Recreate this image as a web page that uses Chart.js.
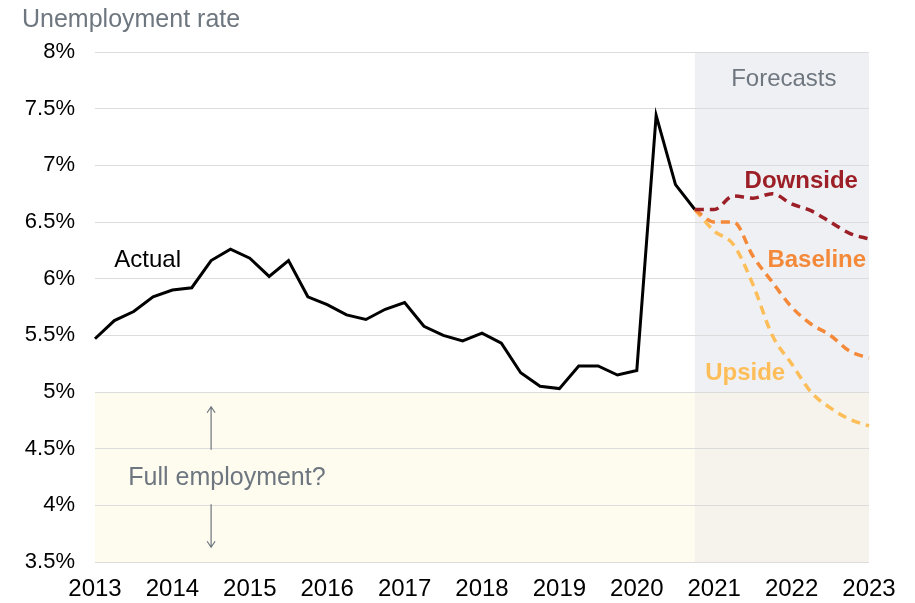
<!DOCTYPE html>
<html>
<head>
<meta charset="utf-8">
<script src="https://cdn.jsdelivr.net/npm/chart.js@4"></script>
<style>
  html, body { margin: 0; padding: 0; background: #fff; }
  #wrap { position: relative; width: 915px; height: 603px; }
</style>
</head>
<body>
<div id="wrap"><canvas id="myChart" width="915" height="603"></canvas></div>
<script>
// quarters 2013Q1 .. 2023Q1
const quarters = [
    '2013Q1','2013Q2','2013Q3','2013Q4','2014Q1','2014Q2','2014Q3','2014Q4',
    '2015Q1','2015Q2','2015Q3','2015Q4','2016Q1','2016Q2','2016Q3','2016Q4',
    '2017Q1','2017Q2','2017Q3','2017Q4','2018Q1','2018Q2','2018Q3','2018Q4',
    '2019Q1','2019Q2','2019Q3','2019Q4','2020Q1','2020Q2','2020Q3','2020Q4',
    '2021Q1','2021Q2','2021Q3','2021Q4','2022Q1','2022Q2','2022Q3','2022Q4',
    '2023Q1'
];

// actual rate, 2013Q1 .. 2020Q4
const actual = [
    5.47, 5.63, 5.71, 5.84, 5.90, 5.92, 6.16, 6.26,
    6.18, 6.02, 6.16, 5.84, 5.77, 5.68, 5.64, 5.73,
    5.79, 5.58, 5.50, 5.45, 5.52, 5.43, 5.17, 5.05,
    5.03, 5.23, 5.23, 5.15, 5.19, 7.44, 6.83, 6.61
];

// forecasts, 2020Q4 .. 2023Q1
const downside = [6.61, 6.61, 6.73, 6.71, 6.75, 6.66, 6.60, 6.50, 6.40, 6.35];
const baseline = [6.61, 6.50, 6.50, 6.20, 5.97, 5.75, 5.60, 5.50, 5.36, 5.30];
const upside   = [6.61, 6.42, 6.30, 5.95, 5.50, 5.25, 5.00, 4.86, 4.76, 4.70];

const yTicks = [3.5, 4, 4.5, 5, 5.5, 6, 6.5, 7, 7.5, 8];

const forecastStart = actual.length - 1;
const fullEmployment = [3.5, 5];

const FONT = '"Liberation Sans", Arial, Helvetica, sans-serif';
const NARROW = '"Liberation Sans Narrow", "Arial Narrow", "Liberation Sans", sans-serif';
const GREY = '#6e767f';

function padForecast(values) {
    let out = new Array(forecastStart).fill(null);
    return out.concat(values);
}

const backgrounds = {
    id: 'backgrounds',
    beforeDraw(chart) {
        const { ctx, chartArea, scales } = chart;
        const x = scales.x, y = scales.y;
        ctx.save();
        let yTop = y.getPixelForValue(fullEmployment[1]);
        let yBot = y.getPixelForValue(fullEmployment[0]);
        let fx = x.getPixelForValue(forecastStart);
        // full employment band
        ctx.fillStyle = '#fefbef';
        ctx.fillRect(chartArea.left, yTop, fx - chartArea.left, yBot - yTop);
        // forecast shading
        ctx.fillStyle = '#eff0f3';
        ctx.fillRect(fx, chartArea.top, chartArea.right - fx, yTop - chartArea.top);
        // overlap
        ctx.fillStyle = '#f5f3ec';
        ctx.fillRect(fx, yTop, chartArea.right - fx, yBot - yTop);
        ctx.restore();
    }
};

const annotations = {
    id: 'annotations',
    afterDatasetsDraw(chart) {
        const { ctx, scales } = chart;
        const x = scales.x, y = scales.y;
        ctx.save();
        ctx.textBaseline = 'middle';

        function label(text, xi, yv, color, weight, align) {
            ctx.font = weight + ' 24px ' + FONT;
            ctx.fillStyle = color;
            ctx.textAlign = align || 'center';
            ctx.fillText(text, x.getPixelForValue(xi), y.getPixelForValue(yv));
        }

        label('Actual', 1, 6.165, '#000', 'normal', 'left');
        label('Forecasts', 35.6, 7.76, GREY, 'normal');
        label('Downside', 36.5, 6.86, '#9c1f27', 'bold');
        label('Baseline', 37.3, 6.165, '#f4893a', 'bold');
        label('Upside', 33.6, 5.16, '#fdbe5a', 'bold');
        ctx.font = '25px ' + FONT;
        ctx.fillStyle = GREY;
        ctx.textAlign = 'center';
        ctx.fillText('Full employment?', x.getPixelForValue(6.82), y.getPixelForValue(4.24));

        // arrows
        let ax = x.getPixelForValue(6);
        ctx.strokeStyle = GREY;
        ctx.lineWidth = 1.2;
        function arrow(from, to) {
            let y1 = y.getPixelForValue(from), y2 = y.getPixelForValue(to);
            let dir = y2 < y1 ? 1 : -1;
            ctx.beginPath();
            ctx.moveTo(ax, y1);
            ctx.lineTo(ax, y2);
            ctx.moveTo(ax - 4, y2 + dir * 6);
            ctx.lineTo(ax, y2);
            ctx.lineTo(ax + 4, y2 + dir * 6);
            ctx.stroke();
        }
        arrow(4.49, 4.87);
        arrow(4.01, 3.63);

        // axis title
        ctx.font = '25px ' + FONT;
        ctx.fillStyle = GREY;
        ctx.textAlign = 'left';
        ctx.fillText('Unemployment rate', 22, 20);
        ctx.restore();
    }
};

function dashed(data, color) {
    return {
        data: padForecast(data),
        borderColor: color,
        borderWidth: 3.5,
        borderDash: [9, 6],
        pointRadius: 0,
        cubicInterpolationMode: 'monotone',
        fill: false
    };
}

const ctx = document.getElementById('myChart');

new Chart(ctx, {
    type: 'line',
    data: {
        labels: quarters,
        datasets: [
            dashed(downside, '#9c1f27'),
            dashed(baseline, '#f4893a'),
            dashed(upside, '#fdbe5a'),
            {
                data: actual,
                borderColor: '#000',
                borderWidth: 3,
                pointRadius: 0,
                tension: 0,
                fill: false
            }
        ]
    },
    options: {
        responsive: false,
        animation: false,
        layout: {
            padding: { left: 0, right: 46, top: 52, bottom: 0 }
        },
        scales: {
            x: {
                type: 'category',
                offset: false,
                grid: { display: false, drawTicks: false },
                border: { display: false },
                ticks: {
                    autoSkip: false,
                    maxRotation: 0,
                    padding: 13,
                    color: '#000',
                    font: { family: NARROW, size: 24 },
                    callback: function (value, index) {
                        let q = quarters[index];
                        return q.endsWith('Q1') ? q.slice(0, 4) : '';
                    }
                },
                afterFit: function (scale) { scale.height = 41; }
            },
            y: {
                min: yTicks[0],
                max: yTicks[yTicks.length - 1],
                grid: { color: '#dcdcdc', lineWidth: 1, drawTicks: false },
                border: { display: false },
                afterBuildTicks: function (scale) {
                    scale.ticks = yTicks.map(v => ({ value: v }));
                },
                ticks: {
                    padding: 20,
                    color: '#000',
                    font: { family: FONT, size: 22 },
                    callback: function (v) { return v + '%'; }
                },
                afterFit: function (scale) { scale.width = 95; }
            }
        },
        plugins: {
            legend: { display: false },
            tooltip: { enabled: false }
        }
    },
    plugins: [backgrounds, annotations]
});
</script>
</body>
</html>
